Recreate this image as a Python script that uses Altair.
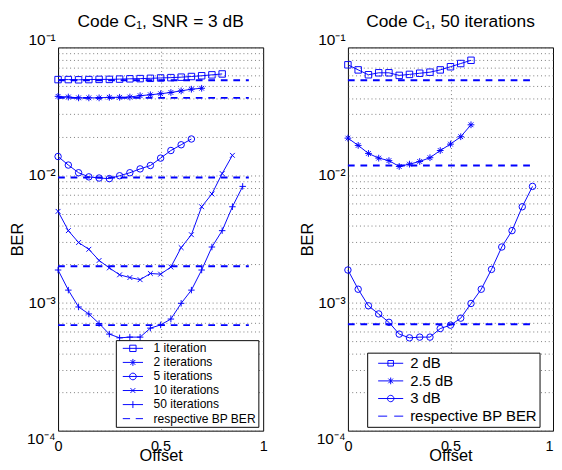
import altair as alt
import pandas as pd

BLUE = "#0000ff"
FONT = "Liberation Sans"

# ---------------- data ----------------
offset_grid = [0.0, 0.05, 0.10, 0.15, 0.20, 0.25, 0.30, 0.35, 0.40, 0.45,
               0.50, 0.55, 0.60, 0.65, 0.70, 0.75, 0.80, 0.85, 0.90]

# Left panel: Code C1, SNR = 3 dB, BER vs offset for several iteration counts
left_names = ["1 iteration", "2 iterations", "5 iterations", "10 iterations", "50 iterations"]
ber_it1 = [0.0560, 0.0560, 0.0558, 0.0560, 0.0562, 0.0562, 0.0565, 0.0568, 0.0570,
           0.0573, 0.0577, 0.0580, 0.0585, 0.0592, 0.0600, 0.0610, 0.0620]
ber_it2 = [0.0414, 0.0409, 0.0403, 0.0403, 0.0403, 0.0407, 0.0407, 0.0409, 0.0419,
           0.0426, 0.0434, 0.0444, 0.0457, 0.0471, 0.0479]
ber_it5 = [0.0140, 0.0120, 0.01045, 0.0097, 0.0095, 0.0094, 0.0099, 0.01045, 0.0112,
           0.0119, 0.0136, 0.0156, 0.0173, 0.0192]
ber_it10 = [0.00521, 0.00368, 0.00297, 0.00263, 0.00215, 0.00188, 0.00166, 0.00158,
            0.00152, 0.00170, 0.00168, 0.00191, 0.00271, 0.00342, 0.00566, 0.00713,
            0.0103, 0.0143]
ber_it50 = [0.00181, 0.00126, 0.00093, 0.00082, 0.00069, 0.00057, 0.000533, 0.00054,
            0.00054, 0.000635, 0.000673, 0.000748, 0.000993, 0.00126, 0.00181,
            0.00274, 0.00368, 0.00566, 0.00817]
left_bp = [0.0553, 0.0403, 0.0096, 0.00194, 0.00067]
left_bp_range = [0.0, 0.93]

# Right panel: Code C1, 50 iterations, BER vs offset for several SNRs
right_names = ["2 dB", "2.5 dB", "3 dB"]
ber_2db = [0.0731, 0.0667, 0.0611, 0.0633, 0.0633, 0.0604, 0.0615, 0.0628, 0.0640,
           0.0667, 0.0706, 0.0748, 0.0793]
ber_25db = [0.0195, 0.0171, 0.0148, 0.0136, 0.0130, 0.0117, 0.0122, 0.0128, 0.0137,
            0.0156, 0.0175, 0.0200, 0.0248]
ber_3db = [0.00181, 0.00128, 0.00095, 0.00082, 0.000705, 0.00057, 0.000533, 0.00054,
           0.00054, 0.00063, 0.00067, 0.00076, 0.00099, 0.00128, 0.00183, 0.00274,
           0.00368, 0.00566, 0.00817]
right_bp = [0.0553, 0.0119, 0.00068]
right_bp_range = [0.0, 0.90]

bp_label = "respective BP BER"
x_ticks = [0, 0.5, 1]
y_ticks = [k * 10.0 ** e for e in (-4, -3, -2) for k in range(1, 10)] + [0.1]
y_tick_text = {"0.1": "10⁻¹", "0.01": "10⁻²", "0.001": "10⁻³", "0.0001": "10⁻⁴"}

# ---------------- marker shapes ----------------
SQUARE = "square"
CIRCLE = "circle"
STAR = "M-1,0H1M0,-1V1M-0.7,-0.7L0.7,0.7M-0.7,0.7L0.7,-0.7"
XMARK = "M-1,-1L1,1M-1,1L1,-1"
PLUS = "M-1,0H1M0,-1V1"


def legend_paths(u_line, u_sq, u_st, u_ci, u_x, u_pl, kinds):
    line = f"M{-u_line},0H{u_line}"
    out = []
    for k in kinds:
        if k == "square":
            out.append(line + f"M{-u_sq},{-u_sq}H{u_sq}V{u_sq}H{-u_sq}Z")
        elif k == "star":
            d = round(u_st * 0.7, 3)
            out.append(line + f"M0,{-u_st}V{u_st}M{-d},{-d}L{d},{d}M{-d},{d}L{d},{-d}")
        elif k == "circle":
            out.append(line + f"M{u_ci},0A{u_ci},{u_ci} 0 1,1 {-u_ci},0A{u_ci},{u_ci} 0 1,1 {u_ci},0")
        elif k == "x":
            out.append(line + f"M{-u_x},{-u_x}L{u_x},{u_x}M{-u_x},{u_x}L{u_x},{-u_x}")
        elif k == "plus":
            out.append(line + f"M0,{-u_pl}V{u_pl}")
        elif k == "dash":
            g = round(u_line * 0.28, 3)
            out.append(f"M{-u_line},0H{-g}M{g},0H{u_line}")
    return out


def make_frames(names, series, bps, bp_range):
    rows = []
    for n, vals in zip(names, series):
        for x, v in zip(offset_grid, vals):
            rows.append({"series": n, "offset": x, "ber": v})
    df = pd.DataFrame(rows)
    bp = pd.DataFrame({"series": names, "x0": bp_range[0], "x1": bp_range[1], "ber": bps})
    return df, bp


def panel(title, names, series, bps, bp_range, markers, leg_kinds, leg_units,
          leg_size, leg_font, leg_row_pad, leg_pad, leg_x, leg_y, sym_off, lab_off,
          last_x_align):
    df, bp = make_frames(names, series, bps, bp_range)
    label_expr = " : ".join(f"datum.value == {k} ? '{v}'" for k, v in y_tick_text.items()) + " : ''"
    xs = alt.X("offset:Q", scale=alt.Scale(domain=[0, 1], nice=False),
               axis=alt.Axis(values=x_ticks, title="Offset", grid=True, gridDash=[1, 3],
                             gridColor="#555555", gridWidth=0.8,
                             gridOpacity={"condition": {"test": "datum.value == 0.5", "value": 1}, "value": 0},
                             ticks=False, domain=False, labelFontSize=15, labelPadding=9,
                             labelFlush=False,
                             labelAlign={"condition": {"test": "datum.value == 1", "value": last_x_align},
                                         "value": "center"},
                             labelColor="black", titleFontSize=17, titleFontWeight="normal",
                             titleColor="black", titleBaseline="alphabetic", titleY=31,
                             labelExpr="datum.value == 0 ? '0' : datum.value == 1 ? '1' : '0.5'"))
    ys = alt.Y("ber:Q", scale=alt.Scale(type="log", domain=[1e-4, 1e-1], nice=False),
               axis=alt.Axis(values=y_ticks, title="BER", grid=True, gridDash=[1, 3],
                             gridColor="#555555", gridWidth=0.8, ticks=False, domain=False,
                             labelFontSize=16, labelPadding=3, labelColor="black",
                             labelOverlap=False, labelExpr=label_expr, labelFlush=False,
                             labelBaseline={"condition": [{"test": "datum.value > 0.09", "value": "bottom"},
                                                          {"test": "datum.value < 0.00011", "value": "top"}],
                                            "value": "middle"},
                             titleFontSize=17, titleFontWeight="normal", titleColor="black",
                             titleBaseline="alphabetic", titleAngle=270, titleX=-37))
    base = alt.Chart(df)
    lines = base.mark_line(color=BLUE, strokeWidth=1).encode(x=xs, y=ys, detail="series:N")
    pts = []
    for n, (shape, size) in zip(names, markers):
        pts.append(base.transform_filter(alt.datum.series == n)
                   .mark_point(shape=shape, size=size, filled=False, color=BLUE,
                               strokeWidth=1, opacity=1)
                   .encode(x="offset:Q", y="ber:Q"))
    rules = alt.Chart(bp).mark_rule(color=BLUE, strokeWidth=2, strokeDash=[7, 6]).encode(
        x="x0:Q", x2="x1:Q", y="ber:Q")
    leg_domain = names + [bp_label]
    leg_range = legend_paths(*leg_units, leg_kinds)
    legend_layer = base.transform_filter("false").mark_point(
        filled=False, color=BLUE, strokeWidth=1, opacity=1).encode(
        x="offset:Q", y="ber:Q",
        shape=alt.Shape("series:N", scale=alt.Scale(domain=leg_domain, range=leg_range),
                        legend=alt.Legend(title=None, orient="none", legendX=leg_x, legendY=leg_y,
                                          symbolSize=leg_size, symbolStrokeWidth=1,
                                          symbolStrokeColor=BLUE, symbolOffset=sym_off,
                                          labelOffset=lab_off, labelFontSize=leg_font,
                                          labelColor="black", labelFont=FONT, labelLimit=400,
                                          rowPadding=leg_row_pad, padding=leg_pad,
                                          strokeColor="black", fillColor="white")))
    return alt.layer(rules, lines, *pts, legend_layer).properties(
        width=213, height=398,
        title=alt.TitleParams(title, fontSize=18, fontWeight="normal", font=FONT,
                              color="black", offset=1))


left = panel("Code C₁, SNR = 3 dB", left_names,
             [ber_it1, ber_it2, ber_it5, ber_it10, ber_it50], left_bp, left_bp_range,
             [(SQUARE, 45), (STAR, 49), (CIRCLE, 45), (XMARK, 25), (PLUS, 45)],
             ["square", "star", "circle", "x", "plus", "dash"],
             (1.75, 0.55, 0.6, 0.58, 0.42, 0.6),
             144, 12.5, 1.6, 2, 60, 304, 9.2, 15, "center")

right = panel("Code C₁, 50 iterations", right_names,
              [ber_2db, ber_25db, ber_3db], right_bp, right_bp_range,
              [(SQUARE, 45), (STAR, 49), (CIRCLE, 45)],
              ["square", "star", "circle", "dash"],
              (1.68, 0.37, 0.45, 0.43, 0.4, 0.5),
              240, 15.5, 1.3, 2.5, 20, 317, 13.4, 11.7, "right")

chart = alt.hconcat(left, right, spacing=31).resolve_scale(
    shape="independent", x="independent", y="independent").resolve_legend(
    shape="independent").properties(
    padding={"left": 0, "top": -4, "right": 0, "bottom": 0}).configure(font=FONT).configure_view(
    stroke="black", strokeWidth=1)

chart.save("out.html", embed_options={"renderer": "svg", "actions": False})
